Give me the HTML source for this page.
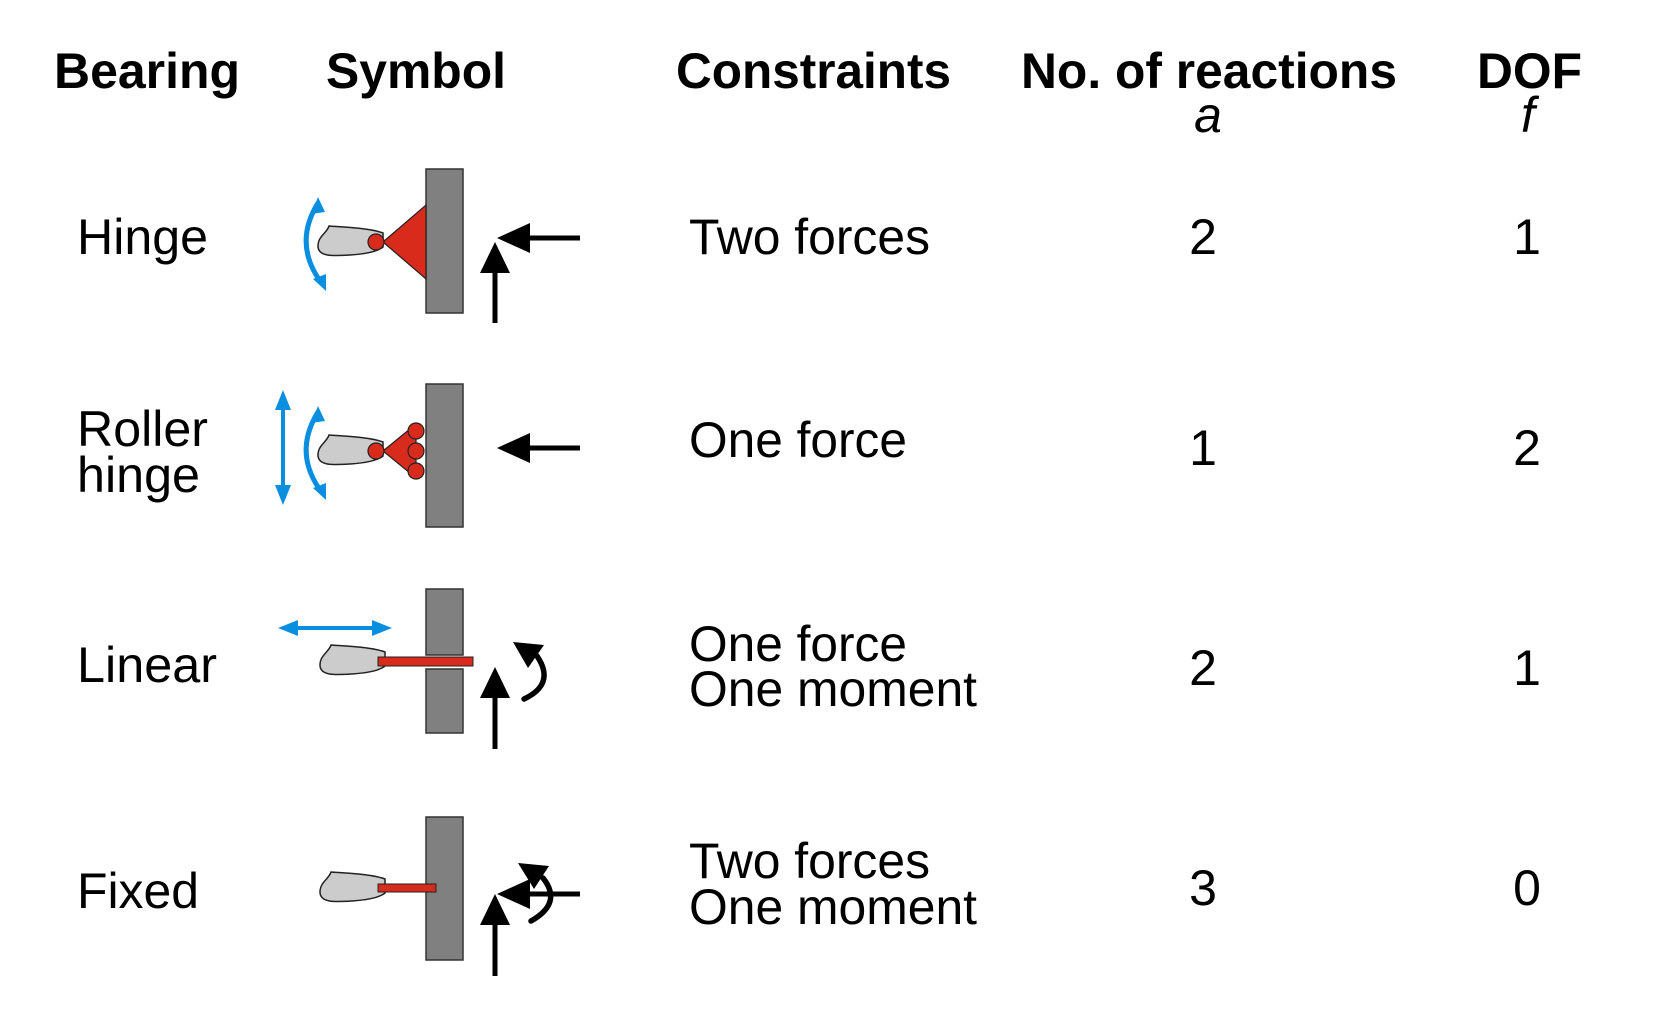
<!DOCTYPE html>
<html><head><meta charset="utf-8"><style>
html,body{margin:0;padding:0;background:#fff;}
svg{display:block;}
text{font-family:"Liberation Sans",Arial,sans-serif;fill:#000;}
.h{font-weight:bold;font-size:50px;}
.t{font-size:50px;}
</style></head><body>
<svg width="1654" height="1010" viewBox="0 0 1654 1010" xmlns="http://www.w3.org/2000/svg">
<defs>
<g id="hand"><path d="M8 -9 C-5 -14 -33 -15 -46 -16 C-48 -9 -57 -6 -57 4 C-57 15 -42 14 -25 13 C-10 12 2 10 8 5 Z" fill="#cccccc" stroke="#222" stroke-width="1.5"/></g>
<g id="barc"><path d="M318 203 Q292 245 323 285" fill="none" stroke="#0a8fe0" stroke-width="5"/>
<polygon points="318,197 311,214 325,212" fill="#0a8fe0"/><polygon points="326,291 313,279 326,274" fill="#0a8fe0"/></g>
</defs>
<!-- headers -->
<text class="h" x="54" y="88" textLength="186" lengthAdjust="spacingAndGlyphs">Bearing</text>
<text class="h" x="326" y="88" textLength="180" lengthAdjust="spacingAndGlyphs">Symbol</text>
<text class="h" x="676" y="88" textLength="275" lengthAdjust="spacingAndGlyphs">Constraints</text>
<text class="h" x="1021" y="88" textLength="376" lengthAdjust="spacingAndGlyphs">No. of reactions</text>
<text class="h" x="1477" y="88" textLength="105" lengthAdjust="spacingAndGlyphs">DOF</text>
<text class="t" x="1208" y="132" font-style="italic" text-anchor="middle">a</text>
<text class="t" x="1528" y="132" font-style="italic" text-anchor="middle">f</text>
<!-- bearing labels -->
<text class="t" x="77" y="254" textLength="131" lengthAdjust="spacingAndGlyphs">Hinge</text>
<text class="t" x="77" y="446" textLength="131" lengthAdjust="spacingAndGlyphs">Roller</text>
<text class="t" x="77" y="492" textLength="123" lengthAdjust="spacingAndGlyphs">hinge</text>
<text class="t" x="77" y="682" textLength="140" lengthAdjust="spacingAndGlyphs">Linear</text>
<text class="t" x="77" y="908" textLength="122" lengthAdjust="spacingAndGlyphs">Fixed</text>
<!-- constraints -->
<text class="t" x="689" y="254" textLength="241" lengthAdjust="spacingAndGlyphs">Two forces</text>
<text class="t" x="689" y="457" textLength="218" lengthAdjust="spacingAndGlyphs">One force</text>
<text class="t" x="689" y="661" textLength="218" lengthAdjust="spacingAndGlyphs">One force</text>
<text class="t" x="689" y="706" textLength="288" lengthAdjust="spacingAndGlyphs">One moment</text>
<text class="t" x="689" y="878" textLength="241" lengthAdjust="spacingAndGlyphs">Two forces</text>
<text class="t" x="689" y="924" textLength="288" lengthAdjust="spacingAndGlyphs">One moment</text>
<!-- numbers -->
<g text-anchor="middle">
<text class="t" x="1203" y="254">2</text><text class="t" x="1527" y="254">1</text>
<text class="t" x="1203" y="465">1</text><text class="t" x="1527" y="465">2</text>
<text class="t" x="1203" y="685">2</text><text class="t" x="1527" y="685">1</text>
<text class="t" x="1203" y="905">3</text><text class="t" x="1527" y="905">0</text>
</g>
<!-- Row 1 hinge -->
<rect x="426" y="169" width="37" height="144" fill="#808080" stroke="#333" stroke-width="1.5"/>
<polygon points="383,242 426,205 426,279" fill="#d92b1c" stroke="#222" stroke-width="1.2"/>
<use href="#hand" transform="translate(375,242)"/>
<circle cx="376" cy="242" r="8" fill="#d92b1c" stroke="#222" stroke-width="1.2"/>
<use href="#barc"/>
<line x1="580" y1="238" x2="525" y2="238" stroke="#000" stroke-width="5"/>
<polygon points="497,238 530,223 530,253" fill="#000"/>
<line x1="495" y1="323" x2="495" y2="268" stroke="#000" stroke-width="5"/>
<polygon points="495,242 480,273 510,273" fill="#000"/>
<!-- Row 2 roller hinge -->
<rect x="426" y="384" width="37" height="143" fill="#808080" stroke="#333" stroke-width="1.5"/>
<polygon points="383,451 416,424 416,478" fill="#d92b1c" stroke="#222" stroke-width="1.2"/>
<circle cx="416" cy="431" r="8" fill="#d92b1c" stroke="#222" stroke-width="1.2"/>
<circle cx="416" cy="451" r="8" fill="#d92b1c" stroke="#222" stroke-width="1.2"/>
<circle cx="416" cy="471" r="8" fill="#d92b1c" stroke="#222" stroke-width="1.2"/>
<use href="#hand" transform="translate(375,451)"/>
<circle cx="376" cy="451" r="8" fill="#d92b1c" stroke="#222" stroke-width="1.2"/>
<use href="#barc" transform="translate(0,209)"/>
<line x1="283" y1="400" x2="283" y2="495" stroke="#0a8fe0" stroke-width="4"/>
<polygon points="283,390 275,410 291,410" fill="#0a8fe0"/>
<polygon points="283,505 275,485 291,485" fill="#0a8fe0"/>
<line x1="580" y1="448" x2="525" y2="448" stroke="#000" stroke-width="5"/>
<polygon points="497,448 530,433 530,463" fill="#000"/>
<!-- Row 3 linear -->
<rect x="426" y="589" width="37" height="66" fill="#808080" stroke="#333" stroke-width="1.5"/>
<rect x="426" y="669" width="37" height="64" fill="#808080" stroke="#333" stroke-width="1.5"/>
<use href="#hand" transform="translate(377,661)"/>
<rect x="378" y="657" width="95" height="9" fill="#d92b1c" stroke="#222" stroke-width="1"/>
<line x1="290" y1="628" x2="382" y2="628" stroke="#0a8fe0" stroke-width="4"/>
<polygon points="278,628 298,620 298,636" fill="#0a8fe0"/>
<polygon points="392,628 372,620 372,636" fill="#0a8fe0"/>
<line x1="495" y1="749" x2="495" y2="693" stroke="#000" stroke-width="5"/>
<polygon points="495,667 480,698 510,698" fill="#000"/>
<path d="M524 699 Q556 684 537 656" fill="none" stroke="#000" stroke-width="5.5" stroke-linecap="round"/>
<polygon points="513,642 544,645 528,668" fill="#000"/>
<!-- Row 4 fixed -->
<rect x="426" y="817" width="37" height="143" fill="#808080" stroke="#333" stroke-width="1.5"/>
<use href="#hand" transform="translate(377,888)"/>
<rect x="378" y="884" width="58" height="8" fill="#d92b1c" stroke="#222" stroke-width="1"/>
<line x1="580" y1="894" x2="525" y2="894" stroke="#000" stroke-width="5"/>
<polygon points="497,894 530,879 530,909" fill="#000"/>
<path d="M531 921 Q563 903 543 878" fill="none" stroke="#000" stroke-width="5.5" stroke-linecap="round"/>
<polygon points="518,863 549,866 534,889" fill="#000"/>
<line x1="495" y1="976" x2="495" y2="920" stroke="#000" stroke-width="5"/>
<polygon points="495,894 480,925 510,925" fill="#000"/>
</svg>
</body></html>
